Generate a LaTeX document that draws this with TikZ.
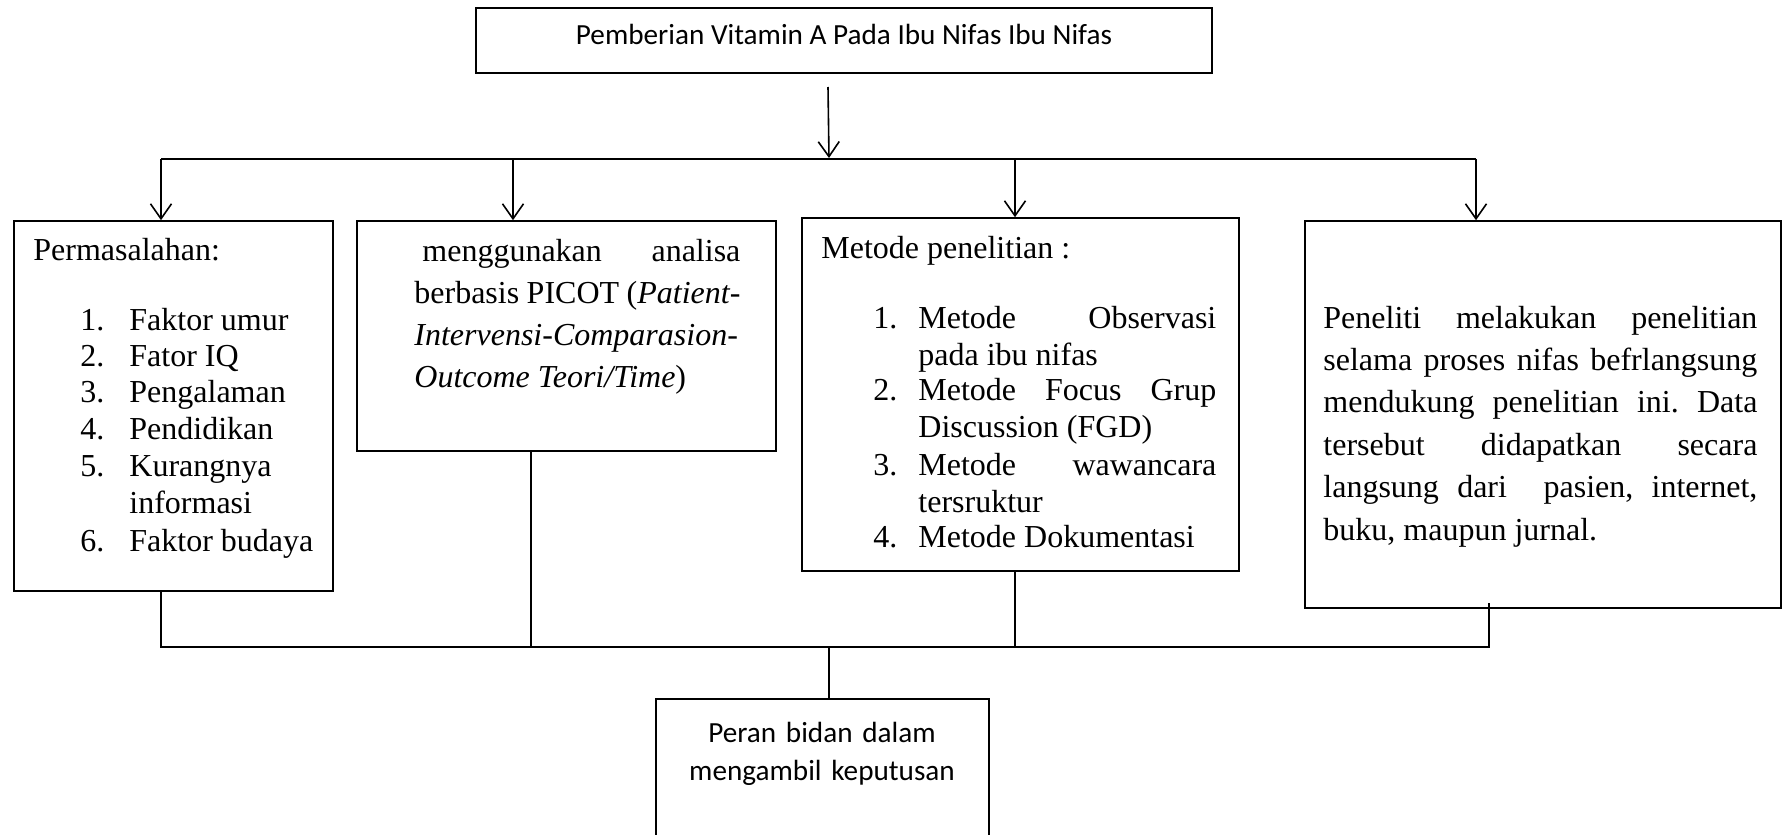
\documentclass[tikz,border=0pt]{standalone}
\usepackage{fontspec}
\setmainfont{Liberation Serif}
\newfontfamily\calib{Carlito}
\usetikzlibrary{arrows.meta,fit}
\tolerance=10000
\hyphenpenalty=10000
\hbadness=10000
\frenchspacing
\begin{document}
\begin{tikzpicture}[x=0.5pt,y=-0.5pt,
  box/.style={draw, line width=0.8pt, inner sep=0pt},
  ln/.style={line width=0.8pt},
  arr/.style={ln, -{Straight Barb[length=7.5pt,width=10.5pt]}},
  ser/.style={inner sep=0pt, anchor=base west, font=\fontsize{16}{18.5}\selectfont},
  serw/.style={inner sep=0pt, anchor=base west, font=\fontsize{16}{21.1}\selectfont},
  sans/.style={inner sep=0pt, anchor=base, font=\calib\fontsize{14.6}{19}\selectfont},
]
\useasboundingbox (0,0) rectangle (1784,835);
\clip (0,0) rectangle (1784,835);

% boxes
\node[box, fit={(476,8) (1212,73)}] (top) {};
\node[box, fit={(14,221) (333,591)}] (b1) {};
\node[box, fit={(357,221) (776,451)}] (b2) {};
\node[box, fit={(802,218) (1239,571)}] (b3) {};
\node[box, fit={(1305,221) (1781,608)}] (b4) {};
\node[box, fit={(656,699) (989,870)}] (b5) {};

% texts
\node[sans] (toptxt) at (844,45) {Pemberian Vitamin A Pada Ibu Nifas Ibu Nifas};

\node[ser] (p0) at (33,260) {Permasalahan:};
\node[ser] (pn1) at (80,330) {1.};
\node[ser] (pt1) at (129,330) {Faktor umur};
\node[ser] (pn2) at (80,366) {2.};
\node[ser] (pt2) at (129,366) {Fator IQ};
\node[ser] (pn3) at (80,402) {3.};
\node[ser] (pt3) at (129,402) {Pengalaman};
\node[ser] (pn4) at (80,439) {4.};
\node[ser] (pt4) at (129,439) {Pendidikan};
\node[ser] (pn5) at (80,476) {5.};
\node[ser] (pt5) at (129,476) {Kurangnya};
\node[ser] (pt5b) at (129,513) {informasi};
\node[ser] (pn6) at (80,551) {6.};
\node[ser] (pt6) at (129,551) {Faktor budaya};

\node[serw, text width=163pt, align=justify] (t2) at (414,261)
  {\hspace*{4pt}menggunakan analisa\linebreak berbasis PICOT (\textit{Patient-}\linebreak\textit{Intervensi-Comparasion-}\linebreak\textit{Outcome Teori/Time})};

\node[ser] (m0) at (821,258) {Metode penelitian :};
\node[ser] (mn1) at (873,328) {1.};
\node[ser, text width=149pt, align=justify] (m1) at (918,328) {Metode Observasi\linebreak pada ibu nifas};
\node[ser] (mn2) at (873,400) {2.};
\node[ser, text width=149pt, align=justify] (m2) at (918,400) {Metode Focus Grup\linebreak Discussion (FGD)};
\node[ser] (mn3) at (873,475) {3.};
\node[ser, text width=149pt, align=justify] (m3) at (918,475) {Metode wawancara\linebreak tersruktur};
\node[ser] (mn4) at (873,547) {4.};
\node[ser, text width=149pt, align=justify] (m4) at (918,547) {Metode Dokumentasi};

\node[serw, text width=217pt, align=justify, font=\fontsize{16}{21.2}\selectfont] (t4) at (1323,328)
  {Peneliti melakukan penelitian\linebreak selama proses nifas befrlangsung\linebreak mendukung penelitian ini. Data\linebreak tersebut didapatkan secara\linebreak langsung dari\ \ pasien, internet,\linebreak buku, maupun jurnal.};

\node[sans, text width=200pt, align=center] (t5) at (822,742) {Peran bidan dalam\\mengambil keputusan};

% connectors
\coordinate (s0) at (828,87);
\coordinate (s1) at (829,158);
\draw[arr] (s0) -- (s1);

\coordinate (j1) at (161,159);
\coordinate (j2) at (513,159);
\coordinate (j3) at (1015,159);
\coordinate (j4) at (1476,159);
\draw[ln] (j1) -- (j4);
\draw[arr] (j1) -- (j1 |- b1.north);
\draw[arr] (j2) -- (j2 |- b2.north);
\draw[arr] (j3) -- (j3 |- b3.north);
\draw[arr] (j4) -- (j4 |- b4.north);

\coordinate (k1) at (161,647);
\coordinate (k2) at (531,647);
\coordinate (k3) at (1015,647);
\coordinate (k4) at (1489,647);
\coordinate (k0) at (829,647);
\draw[ln] (k1 |- b1.south) -- (k1) -- (k4) -- ([yshift=3pt]k4 |- b4.south);
\draw[ln] (k2 |- b2.south) -- (k2);
\draw[ln] (k3 |- b3.south) -- (k3);
\draw[ln] (k0) -- (k0 |- b5.north);
\end{tikzpicture}
\end{document}
